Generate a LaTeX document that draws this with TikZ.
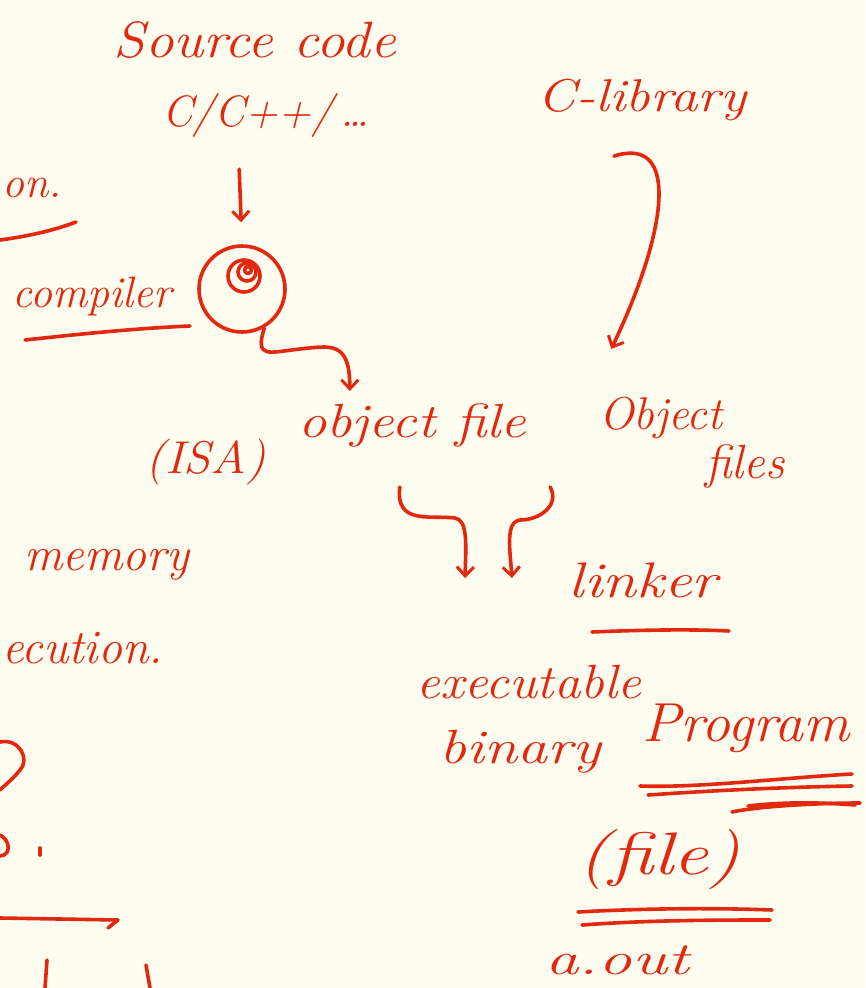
\documentclass[tikz,border=0pt]{standalone}
\usepackage{graphicx}
\usetikzlibrary{arrows.meta,calc}
\definecolor{paper}{HTML}{FFFCF0}
\definecolor{ink}{HTML}{E2280F}
\newcommand\hw[3]{{\fontsize{#1}{#1}\selectfont\itshape\scalebox{#2}[1]{#3}}}
\begin{document}
\begin{tikzpicture}[x=1pt,y=-1pt,
  txt/.style={text=ink, inner sep=0pt},
  ink/.style={draw=ink, line width=3.6pt, line cap=round, line join=round},
  arr/.style={ink, -{Straight Barb[length=9pt,width=17pt,line width=3pt]}}]
\fill[paper] (0,0) rectangle (865,988);
\useasboundingbox (0,0) rectangle (865,988);

% texts
\node[txt] (src) at (255,40) {\hw{51}{1.12}{Source code}};
\node[txt] (cpp) at (266,115) {\hw{44}{1.0}{C/C++/\,\dots}};
\node[txt] (clib) at (642,100) {\hw{46}{1.19}{C-library}};
\node[txt, anchor=west] (on) at (2,188) {\hw{44}{1.0}{on.}};
\node[txt] (cmpl) at (92,296) {\hw{44}{1.0}{compiler}};
\node[txt] (isa) at (206,462) {\hw{46}{1.07}{(ISA)}};
\node[txt] (obj) at (412,425) {\hw{48}{1.18}{object file}};
\node[txt] (objs1) at (661,418) {\hw{46}{1.0}{Object}};
\node[txt] (objs2) at (745,466) {\hw{48}{1.0}{files}};
\node[txt] (mem) at (107,565) {\hw{48}{1.0}{memory}};
\node[txt, anchor=west] (exe) at (2,648) {\hw{48}{1.0}{ecution.}};
\node[txt] (lnk) at (643,580) {\hw{50}{1.23}{linker}};
\node[txt] (exb) at (529,682) {\hw{48}{1.1}{executable}};
\node[txt] (bin) at (520,752) {\hw{48}{1.25}{binary}};
\node[txt] (prog) at (746,728) {\hw{55}{1.05}{Program}};
\node[txt] (fil) at (659,860) {\hw{60}{1.33}{(file)}};
\node[txt] (aout) at (617,960) {\hw{46}{1.45}{a.out}};

% compiler symbol
\node[ink, circle, minimum width=86pt, minimum height=80pt, inner sep=0pt] (comp) at (242,289) {};
\draw[ink] (244,276) circle[radius=16pt];
\draw[ink] (247,272) circle[radius=9pt];
\draw[ink] (248,270) circle[radius=3.5pt];

% underlines
\draw[ink] (0,240) .. controls (30,236) and (55,230) .. (76,222);
\draw[ink] (25,340) .. controls (80,334) and (140,328) .. (190,326);
\draw[ink] (592,632) .. controls (640,630) and (690,629) .. (729,631);
\draw[ink] (640,786) .. controls (700,788) and (780,778) .. (852,774);
\draw[ink] (648,795) .. controls (720,790) and (790,787) .. (852,786);
\draw[ink] (732,812) .. controls (760,806) and (820,803) .. (860,803);
\draw[ink] (748,806) .. controls (790,801) and (830,803) .. (855,805);
\draw[ink] (578,912) .. controls (650,908) and (720,908) .. (772,910);
\draw[ink] (582,925) .. controls (650,920) and (720,920) .. (770,920);

% connectors
\draw[arr, shorten <=32pt, shorten >=22pt] ([xshift=-28pt]cpp.south) -- (comp.north);
\draw[arr] (comp.-60) .. controls (254,360) and (270,352) .. (300,349)
  .. controls (330,346) and (350,340) .. ($(obj.north west)+(52,-12)$);
\draw[arr] ([xshift=-28pt,yshift=-35pt]clib.south) .. controls (680,135) and (668,230) .. ($(objs1.north west)+(12,-48)$);
\coordinate (lin1) at (465,578);
\coordinate (lin2) at (512,578);
\draw[arr] ($(obj.south west)+(102,40)$) .. controls (395,525) and (430,515) .. (455,518)
  .. controls (468,520) and (466,545) .. (lin1);
\draw[arr] ($(obj.south east)+(24,40)$) .. controls (560,505) and (540,520) .. (520,520)
  .. controls (505,522) and (510,550) .. (lin2);

% edge fragments
\draw[ink] (0,742) .. controls (20,738) and (30,760) .. (20,770) .. controls (12,780) and (5,785) .. (0,790);
\draw[ink] (0,835) .. controls (10,840) and (12,855) .. (0,856);
\draw[ink] (40,848) -- (40,855);
\draw[ink] (0,918) -- (118,920) -- (108,928);
\draw[ink] (47,960) -- (45,988);
\draw[ink] (146,965) -- (150,988);
\end{tikzpicture}
\end{document}
